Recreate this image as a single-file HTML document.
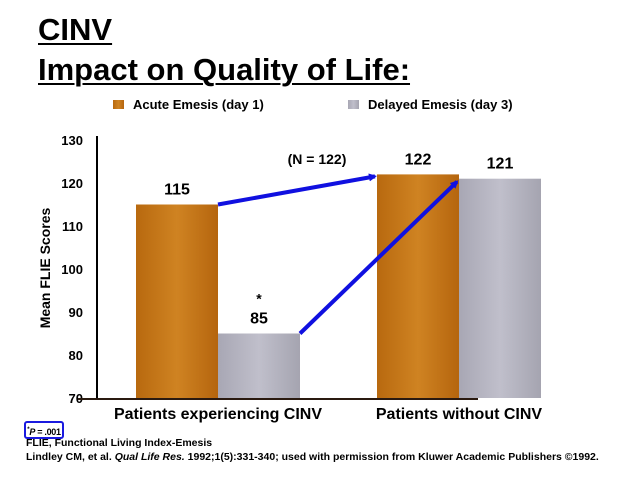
<!DOCTYPE html>
<html><head><meta charset="utf-8"><style>
body{margin:0;background:#fff;font-family:"Liberation Sans",Arial,sans-serif;}
#wrap{position:relative;width:638px;height:479px;overflow:hidden;}
.t{position:absolute;font-weight:bold;color:#000;text-decoration:underline;text-decoration-thickness:2px;text-underline-offset:3px;font-size:31px;left:38px;white-space:nowrap;}
.fn{position:absolute;font-size:10.5px;font-weight:bold;left:26px;white-space:nowrap;}
</style></head><body>
<div id="wrap">
<div class="t" style="top:12px">CINV</div>
<div class="t" style="top:52px">Impact on Quality of Life:</div>
<svg id="chart" width="638" height="479" style="position:absolute;left:0;top:0"></svg>
<div style="position:absolute;left:24px;top:421px;width:36px;height:14px;border:2px solid #1a1adf;border-radius:3px;font-size:9px;font-weight:bold;line-height:14px;text-align:center;white-space:nowrap;letter-spacing:-0.3px;"><sup style="font-size:6px">*</sup><i>P</i> = .001</div>
<div class="fn" style="top:437px">FLIE, Functional Living Index-Emesis</div>
<div class="fn" style="top:451px">Lindley CM, et al. <i>Qual Life Res.</i> 1992;1(5):331-340; used with permission from Kluwer Academic Publishers ©1992.</div>
</div>
<script>
const categories=["Patients experiencing CINV","Patients without CINV"];
const acute=[115,122];
const delayed=[85,121];
const ticks=[70,80,90,100,110,120,130];
const NS="http://www.w3.org/2000/svg";
const svg=document.getElementById('chart');
const y0=398,yTop=140,vmin=70,vmax=130;
const y=v=>y0-(v-vmin)/(vmax-vmin)*(y0-yTop);
const groupX=[136,377],bw=82;
function el(t,a,txt){const e=document.createElementNS(NS,t);for(const k in a)e.setAttribute(k,a[k]);if(txt!==undefined)e.textContent=txt;svg.appendChild(e);return e;}
const defs=el('defs',{});
defs.innerHTML='<linearGradient id="ga" x1="0" x2="1"><stop offset="0" stop-color="#b8690f"/><stop offset="0.5" stop-color="#cf8322"/><stop offset="1" stop-color="#b5650e"/></linearGradient><linearGradient id="gd" x1="0" x2="1"><stop offset="0" stop-color="#a8a7b4"/><stop offset="0.5" stop-color="#c0bfcb"/><stop offset="1" stop-color="#a5a4b0"/></linearGradient><marker id="ah" markerWidth="8" markerHeight="8" refX="6" refY="4" orient="auto" markerUnits="userSpaceOnUse"><path d="M0,0 L8,4 L0,8z" fill="#1010e0"/></marker>';
let r=el('rect',{x:113,y:100,width:11,height:9,fill:'url(#ga)'});
let t=el('text',{x:133,y:109,'font-size':13,'font-weight':'bold'},'Acute Emesis (day 1)');
r=el('rect',{x:348,y:100,width:11,height:9,fill:'url(#gd)'});
t=el('text',{x:368,y:109,'font-size':13,'font-weight':'bold'},'Delayed Emesis (day 3)');
let a=el('line',{x1:97,y1:136,x2:97,y2:399,stroke:'#000','stroke-width':2});
ticks.forEach(v=>{const e=el('text',{x:83,y:y(v)+5,'text-anchor':'end','font-size':13,'font-weight':'bold'},v);});
t=el('text',{x:0,y:0,'font-size':14,'font-weight':'bold','text-anchor':'middle',transform:'translate(50,268) rotate(-90)'},'Mean FLIE Scores');
categories.forEach((c,i)=>{
  const xa=groupX[i];
  let b=el('rect',{x:xa,y:y(acute[i]),width:bw,height:y0-y(acute[i]),fill:'url(#ga)'});
  let d=el('rect',{x:xa+bw,y:y(delayed[i]),width:bw,height:y0-y(delayed[i]),fill:'url(#gd)'});
  let l=el('text',{x:xa+bw/2,y:y(acute[i])-10,'text-anchor':'middle','font-size':16,'font-weight':'bold'},acute[i]);
  l=el('text',{x:xa+bw*1.5,y:y(delayed[i])-10,'text-anchor':'middle','font-size':16,'font-weight':'bold'},delayed[i]);
  l=el('text',{x:xa+bw,y:419,'text-anchor':'middle','font-size':16,'font-weight':'bold'},c);
});
let s=el('text',{x:groupX[0]+bw*1.5,y:y(delayed[0])-30,'text-anchor':'middle','font-size':14,'font-weight':'bold'},'*');
a=el('line',{x1:78,y1:399,x2:478,y2:399,stroke:'#2a1a10','stroke-width':2});
let ar=el('line',{x1:groupX[0]+bw,y1:y(acute[0]),x2:groupX[1]-2,y2:y(acute[1])+2,stroke:'#1010e0','stroke-width':4,'marker-end':'url(#ah)'});
ar=el('line',{x1:groupX[0]+2*bw,y1:y(delayed[0]),x2:groupX[1]+bw-2,y2:y(delayed[1])+3,stroke:'#1010e0','stroke-width':4,'marker-end':'url(#ah)'});
t=el('text',{x:317,y:164,'text-anchor':'middle','font-size':14,'font-weight':'bold'},'(N = 122)');
</script>
</body></html>
